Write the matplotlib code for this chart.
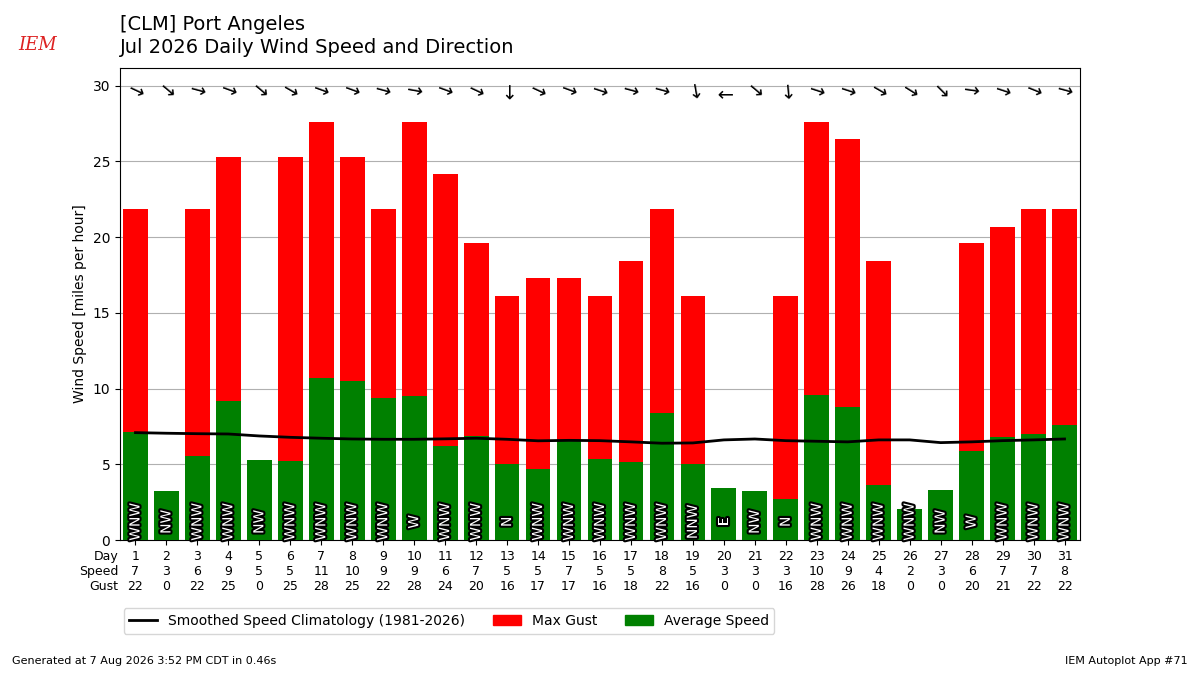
import matplotlib
matplotlib.use('Agg')
import matplotlib.pyplot as plt
import matplotlib.patheffects as PathEffects
from matplotlib.patches import Patch
from matplotlib.lines import Line2D

# daily values (mph)
days = list(range(1, 32))
avg_speed = [7.1, 3.24, 5.55, 9.2, 5.3, 5.2, 10.7, 10.5, 9.4, 9.5,
             6.2, 6.9, 5.0, 4.7, 6.6, 5.35, 5.15, 8.4, 5.0, 3.45,
             3.24, 2.7, 9.6, 8.8, 3.6, 2.05, 3.3, 5.9, 6.8, 7.0, 7.6]
max_gust = [21.86, 0, 21.86, 25.3, 0, 25.3, 27.6, 25.3, 21.86, 27.6,
            24.2, 19.6, 16.1, 17.3, 17.3, 16.1, 18.4, 21.86, 16.1, 0,
            0, 16.1, 27.6, 26.5, 18.4, 0, 0, 19.6, 20.7, 21.86, 21.86]
speed_lbl = [7, 3, 6, 9, 5, 5, 11, 10, 9, 9, 6, 7, 5, 5, 7, 5, 5, 8, 5, 3,
             3, 3, 10, 9, 4, 2, 3, 6, 7, 7, 8]
gust_lbl = [22, 0, 22, 25, 0, 25, 28, 25, 22, 28, 24, 20, 16, 17, 17, 16,
            18, 22, 16, 0, 0, 16, 28, 26, 18, 0, 0, 20, 21, 22, 22]
clim = [7.09, 7.05, 7.02, 7.0, 6.87, 6.78, 6.72, 6.67, 6.65, 6.65,
        6.68, 6.72, 6.65, 6.55, 6.58, 6.56, 6.48, 6.39, 6.41, 6.61,
        6.67, 6.56, 6.52, 6.48, 6.61, 6.61, 6.43, 6.48, 6.56, 6.61, 6.67]
wind_dir = [295, 310, 285, 290, 310, 300, 290, 290, 285, 280,
            290, 295, 0, 295, 290, 288, 285, 285, 350, 90,
            310, 355, 288, 288, 300, 302, 315, 278, 288, 292, 285]
dir_txt = ['WNW', 'NW', 'WNW', 'WNW', 'NW', 'WNW', 'WNW', 'WNW', 'WNW', 'W',
           'WNW', 'WNW', 'N', 'WNW', 'WNW', 'WNW', 'WNW', 'WNW', 'NNW', 'E',
           'NW', 'N', 'WNW', 'WNW', 'WNW', 'WNW', 'NW', 'W', 'WNW', 'WNW', 'WNW']

fig = plt.figure(figsize=(12, 6.75), dpi=100)
ax = fig.add_axes([0.1, 0.2, 0.8, 0.7])

ax.bar(days, max_gust, width=0.8, color='r', zorder=2)
ax.bar(days, avg_speed, width=0.8, color='g', zorder=3)
ax.plot(days, clim, color='k', lw=2, zorder=4)

for d, txt, wd in zip(days, dir_txt, wind_dir):
    t = ax.text(d, 1.2, txt, rotation=90, ha='center', va='center',
                color='white', fontsize=10, zorder=5)
    t.set_path_effects([PathEffects.withStroke(linewidth=3, foreground='k')])
    ax.text(d, 29.6, '\u2192', rotation=270 - wd, ha='center', va='center',
            rotation_mode='anchor', fontsize=14, zorder=5)

ax.set_xlim(0.5, 31.5)
ax.set_ylim(0, 31.2)
ax.set_yticks(range(0, 31, 5))
ax.set_xticks(days)
ax.set_xticklabels(['%d\n%d\n%d' % (d, s, g)
                    for d, s, g in zip(days, speed_lbl, gust_lbl)], fontsize=9)
ax.annotate('Day\nSpeed\nGust', xy=(0, 0), xycoords='axes fraction',
            xytext=(-1, -7), textcoords='offset points', ha='right', va='top',
            fontsize=9, multialignment='right')
ax.grid(axis='y', zorder=1)
ax.set_axisbelow(True)
ax.set_ylabel('Wind Speed [miles per hour]')

fig.text(0.1, 1 - 15 / 675, '[CLM] Port Angeles\nJul 2026 Daily Wind Speed and Direction',
         fontsize=14, va='top', ha='left', linespacing=1.25)
# stand-in for the IEM logo
fig.text(38 / 1200, 1 - 45 / 675, 'IEM', color='#d22', fontsize=13,
         family='DejaVu Serif', style='italic', ha='center', va='center')

handles = [Line2D([0], [0], color='k', lw=2),
           Patch(color='r'), Patch(color='g')]
fig.legend(handles, ['Smoothed Speed Climatology (1981-2026)', 'Max Gust',
                     'Average Speed'],
           loc='center', bbox_to_anchor=(449 / 1200, 1 - 621 / 675), ncol=3,
           fontsize=10)

fig.text(0.01, 0.016, 'Generated at 7 Aug 2026 3:52 PM CDT in 0.46s', fontsize=8)
fig.text(0.99, 0.016, 'IEM Autoplot App #71', fontsize=8, ha='right')

fig.savefig('out.png', dpi=100)
